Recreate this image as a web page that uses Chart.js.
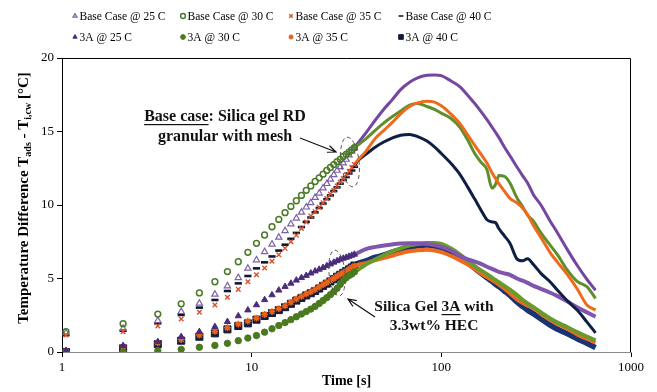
<!DOCTYPE html>
<html>
<head>
<meta charset="utf-8">
<script src="https://cdn.jsdelivr.net/npm/chart.js@4.4.0/dist/chart.umd.min.js"></script>
<style>
  html, body { margin: 0; padding: 0; background: #fff; }
  #wrap { width: 657px; height: 392px; }
</style>
</head>
<body>
<div id="wrap"><canvas id="chart" width="657" height="392"></canvas></div>
<script>
// time axis [s] - separate markers early, dense (line) part later
const tMarks = [1.05, 2.1, 3.2, 4.25, 5.3, 6.4, 7.45, 8.5, 9.55, 10.6, 11.7, 12.8, 13.9, 15.0, 16.1, 17.2,
  18.3, 19.4, 20.5, 21.6, 22.7, 23.8, 24.9, 26.0, 27.1, 28.2, 29.3, 30.4, 31.5, 32.6, 33.7, 34.8];
const tTail = [36, 40, 45, 50, 55, 61, 68, 75, 84, 92, 100, 112, 125, 138, 150, 162, 174, 185, 193, 201,
  215, 230, 250, 268, 285, 306, 335, 373, 410, 460, 520, 585, 650];

// Base case (silica gel RD granular with mesh)
const bc25Marks = [1.3, 1.6, 2.13, 2.74, 3.31, 3.92, 4.49, 5.05, 5.69, 6.26, 6.82, 7.33, 7.8, 8.25, 8.7, 9.1,
  9.5, 9.85, 10.15, 10.5, 10.8, 11.15, 11.45, 11.75, 12.05, 12.35, 12.6, 12.85, 13.1, 13.4, 13.65, 13.9];
const bc25Tail = [14.15, 14.9, 15.8, 16.55, 17.15, 17.85, 18.35, 18.65, 18.82, 18.85, 18.8, 18.45, 18.05, 17.45,
  16.9, 16.35, 15.8, 15.3, 14.95, 14.6, 13.95, 13.35, 12.6, 12.0, 11.5, 10.7, 10.0, 8.95, 8.1, 7.0, 5.9, 4.95, 4.2];
const bc30Marks = [1.38, 1.93, 2.58, 3.28, 4.02, 4.78, 5.47, 6.14, 6.78, 7.39, 7.96, 8.52, 9.02, 9.48, 9.9, 10.29,
  10.65, 11.0, 11.3, 11.6, 11.85, 12.1, 12.35, 12.55, 12.75, 12.95, 13.1, 13.3, 13.45, 13.6, 13.75, 13.9];
const bc30Tail = [14.05, 14.5, 15.1, 15.6, 16.0, 16.4, 16.8, 16.9, 16.7, 16.5, 16.25, 15.9, 15.3, 14.4, 13.5,
  12.9, 12.4, 11.15, 11.4, 12.0, 11.95, 11.5, 10.5, 9.9, 9.3, 8.9, 8.1, 7.3, 6.6, 5.6, 4.8, 4.45, 3.65];
const bc35Marks = [1.15, 1.38, 1.77, 2.24, 2.7, 3.2, 3.72, 4.26, 4.78, 5.25, 5.72, 6.18, 6.62, 7.05, 7.5, 7.95,
  8.4, 8.85, 9.25, 9.55, 9.85, 10.15, 10.45, 10.75, 11.0, 11.3, 11.55, 11.8, 12.05, 12.3, 12.55, 12.75];
const bc35Tail = [13.0, 13.65, 14.55, 15.1, 15.6, 16.2, 16.7, 16.95, 17.05, 17.0, 16.75, 16.2, 15.55, 14.75,
  14.05, 13.45, 12.85, 12.2, 11.8, 11.45, 10.95, 10.45, 10.15, 9.8, 9.35, 8.6, 7.8, 6.8, 6.1, 5.3, 4.3, 3.2, 2.85];
const bc40Marks = [1.15, 1.45, 1.95, 2.52, 3.02, 3.54, 4.15, 4.67, 5.17, 5.69, 6.1, 6.5, 6.9, 7.3, 7.7, 8.1,
  8.5, 8.85, 9.15, 9.5, 9.8, 10.1, 10.4, 10.65, 10.95, 11.2, 11.45, 11.7, 11.9, 12.15, 12.35, 12.6];
const bc40Tail = [12.95, 13.45, 13.95, 14.3, 14.55, 14.75, 14.8, 14.65, 14.35, 13.95, 13.5, 12.85, 12.1, 11.2,
  10.4, 9.65, 9.0, 8.85, 8.8, 8.4, 7.9, 7.4, 6.35, 6.2, 6.35, 5.95, 5.35, 4.8, 4.2, 3.5, 2.85, 2.05, 1.3];

// Silica gel 3A with 3.3wt% HEC
const a25Marks = [0.1, 0.43, 0.7, 1.04, 1.38, 1.72, 2.06, 2.45, 2.85, 3.2, 3.55, 3.88, 4.2, 4.45, 4.67, 4.88,
  5.05, 5.2, 5.36, 5.5, 5.62, 5.74, 5.86, 5.98, 6.1, 6.2, 6.3, 6.37, 6.43, 6.5, 6.57, 6.64];
const a25Tail = [6.72, 7.0, 7.15, 7.25, 7.32, 7.38, 7.4, 7.4, 7.35, 7.28, 7.15, 6.9, 6.55, 6.3, 6.15, 6.0, 5.8,
  5.65, 5.55, 5.45, 5.35, 5.25, 5.0, 4.85, 4.7, 4.5, 4.3, 4.05, 3.8, 3.45, 3.05, 2.7, 2.4];
const a30Marks = [0.0, 0.0, 0.09, 0.18, 0.32, 0.45, 0.59, 0.77, 0.95, 1.12, 1.35, 1.58, 1.8, 2.0, 2.2, 2.4,
  2.58, 2.75, 2.92, 3.1, 3.3, 3.5, 3.7, 3.9, 4.1, 4.33, 4.6, 4.85, 5.05, 5.2, 5.3, 5.45];
const a30Tail = [5.55, 5.95, 6.3, 6.6, 6.85, 7.05, 7.25, 7.35, 7.42, 7.42, 7.35, 7.05, 6.65, 6.2, 5.85, 5.55,
  5.3, 5.05, 4.9, 4.75, 4.5, 4.25, 3.9, 3.55, 3.3, 3.05, 2.7, 2.3, 2.0, 1.7, 1.35, 1.05, 0.8];
const a35Marks = [0.05, 0.35, 0.62, 0.85, 1.15, 1.4, 1.65, 1.9, 2.1, 2.3, 2.55, 2.75, 2.95, 3.15, 3.38, 3.6,
  3.78, 3.95, 4.1, 4.25, 4.42, 4.58, 4.72, 4.86, 5.0, 5.15, 5.28, 5.4, 5.52, 5.63, 5.75, 5.85];
const a35Tail = [5.92, 6.05, 6.25, 6.4, 6.55, 6.72, 6.85, 6.92, 6.95, 6.9, 6.8, 6.55, 6.25, 5.95, 5.65, 5.35,
  5.1, 4.9, 4.75, 4.6, 4.3, 4.0, 3.6, 3.35, 3.15, 3.0, 2.6, 2.2, 1.9, 1.6, 1.2, 0.9, 0.65];
const a40Marks = [0.0, 0.25, 0.54, 0.77, 1.04, 1.27, 1.54, 1.77, 1.95, 2.2, 2.45, 2.65, 2.85, 3.05, 3.28, 3.5,
  3.68, 3.85, 4.0, 4.15, 4.32, 4.5, 4.65, 4.8, 4.95, 5.12, 5.25, 5.38, 5.5, 5.62, 5.75, 5.88];
const a40Tail = [6.0, 6.2, 6.45, 6.6, 6.8, 6.95, 7.1, 7.22, 7.28, 7.2, 7.05, 6.75, 6.4, 6.05, 5.7, 5.35, 5.05,
  4.8, 4.6, 4.45, 4.15, 3.85, 3.4, 3.1, 2.85, 2.6, 2.25, 1.85, 1.55, 1.25, 0.9, 0.6, 0.3];

const xTicks = [1, 10, 100, 1000];
const yTicks = [0, 5, 10, 15, 20];

const SERIF = '"Liberation Serif", "Times New Roman", serif';
const NM = tMarks.length;

const series = [
  { label: 'Base Case @ 25 C', marks: bc25Marks, tail: bc25Tail, style: 'triangle', r: 3.6, fill: 'rgba(255,255,255,0)', edge: '#7b62a6', bw: 1.2, line: '#7446a0', lw: 3, order: 3 },
  { label: 'Base Case @ 30 C', marks: bc30Marks, tail: bc30Tail, style: 'circle', r: 2.9, fill: 'rgba(255,255,255,0)', edge: '#4b7a26', bw: 1.5, line: '#5e8f2a', lw: 3, order: 2 },
  { label: 'Base Case @ 35 C', marks: bc35Marks, tail: bc35Tail, style: 'crossRot', r: 3.2, fill: '#d9502a', edge: '#d9502a', bw: 1.4, line: '#ee6a1c', lw: 3, order: 1 },
  { label: 'Base Case @ 40 C', marks: bc40Marks, tail: bc40Tail, style: 'line', r: 3.6, fill: '#101830', edge: '#101830', bw: 2.6, line: '#0f1e44', lw: 3, order: 4 },
  { label: '3A @ 25 C', marks: a25Marks, tail: a25Tail, style: 'triangle', r: 3.6, fill: '#4a2c7a', edge: '#4a2c7a', bw: 1, line: '#7f55ae', lw: 4, order: 5 },
  { label: '3A @ 30 C', marks: a30Marks, tail: a30Tail, style: 'circle', r: 3.2, fill: '#4a7a1f', edge: '#4a7a1f', bw: 1, line: '#6a9a2e', lw: 4, order: 6 },
  { label: '3A @ 35 C', marks: a35Marks, tail: a35Tail, style: 'star', r: 3.4, fill: '#e8621b', edge: '#e8621b', bw: 1.5, line: '#ee6a1c', lw: 4, order: 7 },
  { label: '3A @ 40 C', marks: a40Marks, tail: a40Tail, style: 'rect', r: 5, fill: '#111c3d', edge: '#111c3d', bw: 1, line: '#1a3372', lw: 5.5, order: 8 }
];

const datasets = series.map(s => ({
  label: s.label,
  data: tMarks.map((t, i) => ({ x: t, y: s.marks[i] }))
    .concat(tTail.map((t, i) => ({ x: t, y: s.tail[i] }))),
  showLine: true,
  order: s.order,
  borderColor: s.line,
  borderWidth: s.lw,
  cubicInterpolationMode: 'monotone',
  segment: {
    borderColor: ctx => (ctx.p0DataIndex >= NM - 1 ? s.line : 'rgba(0,0,0,0)')
  },
  pointStyle: s.style,
  pointRadius: ctx => (ctx.dataIndex < NM ? s.r : 0),
  pointHoverRadius: 0,
  pointBackgroundColor: s.fill,
  pointBorderColor: s.edge,
  pointBorderWidth: s.bw
}));

// legend (4 columns x 2 rows), axis titles, frame and annotations
const legendCols = [75, 183, 291, 401];
const legendRows = [16, 37];

function marker(ctx, s, x, y) {
  ctx.save();
  ctx.fillStyle = s.fill.indexOf('rgba') === 0 ? '#ffffff' : s.fill;
  ctx.strokeStyle = s.edge;
  ctx.lineWidth = Math.min(s.bw, 1.6);
  const r = s.style === 'rect' ? 3.3 : 2.4;
  Chart.helpers.drawPoint(ctx, { pointStyle: s.style, radius: r, rotation: 0, borderWidth: ctx.lineWidth }, x, y);
  ctx.restore();
}

function arrow(ctx, x0, y0, x1, y1) {
  const a = Math.atan2(y1 - y0, x1 - x0);
  ctx.beginPath();
  ctx.moveTo(x0, y0);
  ctx.lineTo(x1, y1);
  ctx.moveTo(x1 - 9 * Math.cos(a - 0.4), y1 - 9 * Math.sin(a - 0.4));
  ctx.lineTo(x1, y1);
  ctx.lineTo(x1 - 9 * Math.cos(a + 0.4), y1 - 9 * Math.sin(a + 0.4));
  ctx.stroke();
}

function centeredLine(ctx, parts, cx, cy, font) {
  ctx.font = font;
  const w = parts.reduce((a, p) => a + ctx.measureText(p.t).width, 0);
  let x = cx - w / 2;
  parts.forEach(p => {
    const pw = ctx.measureText(p.t).width;
    ctx.fillText(p.t, x, cy);
    if (p.u) {
      ctx.fillRect(x, cy + 7, pw, 1.2);
    }
    x += pw;
  });
}

const decor = {
  id: 'decor',
  afterDraw(chart) {
    const ctx = chart.ctx;
    const a = chart.chartArea;
    ctx.save();
    // frame top / right
    ctx.strokeStyle = '#000';
    ctx.lineWidth = 1;
    ctx.beginPath();
    ctx.moveTo(a.left, a.top + 0.5);
    ctx.lineTo(a.right - 0.5, a.top + 0.5);
    ctx.lineTo(a.right - 0.5, a.bottom);
    ctx.stroke();

    // legend
    ctx.textBaseline = 'middle';
    ctx.textAlign = 'left';
    series.forEach((s, i) => {
      const x = legendCols[i % 4];
      const y = legendRows[Math.floor(i / 4)];
      marker(ctx, s, x, y);
      ctx.fillStyle = '#000';
      ctx.font = '11.5px ' + SERIF;
      ctx.fillText(s.label, x + 4.5, y + 1);
    });

    // x title
    ctx.fillStyle = '#000';
    ctx.textAlign = 'center';
    ctx.font = 'bold 14px ' + SERIF;
    ctx.fillText('Time [s]', (a.left + a.right) / 2, 381);

    // y title with subscripts
    const main = 'bold 15px ' + SERIF;
    const sub = 'bold 10px ' + SERIF;
    const parts = [
      { t: 'Temperature Difference T', f: main, dy: 0 },
      { t: 'ads', f: sub, dy: 4 },
      { t: ' - T', f: main, dy: 0 },
      { t: 'i,cw', f: sub, dy: 4 },
      { t: ' [\u00B0C]', f: main, dy: 0 }
    ];
    let total = 0;
    parts.forEach(p => { ctx.font = p.f; total += ctx.measureText(p.t).width; });
    ctx.translate(24, 198);
    ctx.rotate(-Math.PI / 2);
    ctx.textAlign = 'left';
    let px = -total / 2;
    parts.forEach(p => {
      ctx.font = p.f;
      ctx.fillText(p.t, px, p.dy);
      px += ctx.measureText(p.t).width;
    });
    ctx.restore();

    // annotations
    ctx.save();
    ctx.fillStyle = '#111';
    ctx.textBaseline = 'middle';
    ctx.textAlign = 'left';
    centeredLine(ctx, [{ t: 'Base case', u: true }, { t: ': Silica gel RD' }], 225, 117, 'bold 16px ' + SERIF);
    centeredLine(ctx, [{ t: 'granular with mesh' }], 225, 137, 'bold 16px ' + SERIF);
    centeredLine(ctx, [{ t: 'Silica Gel ' }, { t: '3A', u: true }, { t: ' with' }], 434, 307, 'bold 15.5px ' + SERIF);
    centeredLine(ctx, [{ t: '3.3wt% HEC' }], 434, 326, 'bold 15.5px ' + SERIF);

    ctx.strokeStyle = '#111';
    ctx.lineWidth = 1.2;
    arrow(ctx, 300, 138, 336, 152);
    arrow(ctx, 375, 317, 348, 299);

    ctx.strokeStyle = '#555';
    ctx.lineWidth = 1;
    ctx.setLineDash([4, 3]);
    ctx.beginPath();
    ctx.ellipse(350, 162, 9, 25, -0.12, 0, Math.PI * 2);
    ctx.stroke();
    ctx.beginPath();
    ctx.ellipse(337, 273, 8, 23, -0.1, 0, Math.PI * 2);
    ctx.stroke();
    ctx.restore();
  }
};

const tickFont = { family: SERIF, size: 13 };

new Chart(document.getElementById('chart'), {
  type: 'scatter',
  data: { datasets },
  options: {
    responsive: false,
    animation: false,
    devicePixelRatio: 1,
    layout: { padding: { left: 0, right: 26, top: 58, bottom: 0 } },
    plugins: { legend: { display: false }, tooltip: { enabled: false } },
    scales: {
      x: {
        type: 'logarithmic',
        min: 1,
        max: 1000,
        afterBuildTicks: s => { s.ticks = xTicks.map(v => ({ value: v })); },
        afterFit: s => { s.height = 40; },
        ticks: { autoSkip: false, maxRotation: 0, color: '#000', font: tickFont, padding: 3, callback: v => String(v) },
        grid: { display: true, drawOnChartArea: false, drawTicks: true, tickLength: 5, color: '#000' },
        border: { display: true, color: '#8a8a8a' }
      },
      y: {
        min: 0,
        max: 20,
        afterBuildTicks: s => { s.ticks = yTicks.map(v => ({ value: v })); },
        afterFit: s => { s.width = 62; },
        ticks: { color: '#000', font: tickFont, padding: 3 },
        grid: { display: true, drawOnChartArea: false, drawTicks: true, tickLength: 5, color: '#000' },
        border: { display: true, color: '#000' }
      }
    }
  },
  plugins: [decor]
});
</script>
</body>
</html>
